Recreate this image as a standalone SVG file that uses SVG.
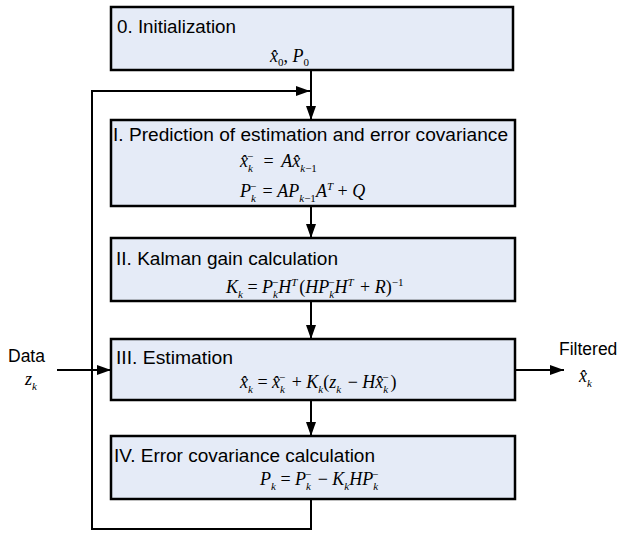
<svg xmlns="http://www.w3.org/2000/svg" width="621" height="533" viewBox="0 0 621 533">
<style>
.box{fill:#e5ebf7;stroke:#000;stroke-width:2.5}
.t{font-family:"Liberation Sans",Arial,sans-serif;font-size:17.5px;fill:#000}
.m{font-family:"Liberation Serif","Times New Roman",serif;font-style:italic;font-size:18px;fill:#000}
.u{font-style:normal}
.s{font-size:11px}
.c{fill:none;stroke:#000;stroke-width:2}
</style>
<defs>
<marker id="ah" markerWidth="14" markerHeight="10" refX="14" refY="5" orient="auto" markerUnits="userSpaceOnUse">
<path d="M0,0 L14,5 L0,10 Z" fill="#000"/>
</marker>
</defs>
<rect width="621" height="533" fill="#fff"/>
<g id="connectors">
<line class="c" x1="311" y1="70" x2="311" y2="120" marker-end="url(#ah)"/>
<line class="c" x1="311" y1="206" x2="311" y2="238" marker-end="url(#ah)"/>
<line class="c" x1="311" y1="301" x2="311" y2="339" marker-end="url(#ah)"/>
<line class="c" x1="311" y1="400" x2="311" y2="436" marker-end="url(#ah)"/>
<polyline class="c" points="311,499 311,529 92,529 92,91 310,91" marker-end="url(#ah)"/>
<line class="c" x1="57" y1="370" x2="111" y2="370" marker-end="url(#ah)"/>
<line class="c" x1="516" y1="370" x2="564" y2="370" marker-end="url(#ah)"/>
</g>
<g id="node0">
<rect class="box" x="111" y="7" width="402" height="63"/>
<text class="t" x="117" y="33" textLength="119" lengthAdjust="spacingAndGlyphs">0. Initialization</text>
<text class="m" x="270" y="62">x̂<tspan class="s u" dy="4">0</tspan><tspan class="u" dy="-4">, </tspan>P<tspan class="s u" dy="4">0</tspan></text>
</g>
<g id="node1">
<rect class="box" x="111" y="120" width="404" height="86"/>
<text class="t" x="113" y="141" textLength="395" lengthAdjust="spacingAndGlyphs">I. Prediction of estimation and error covariance</text>
<text class="m" x="240" y="167">x̂<tspan class="s" dy="5">k</tspan><tspan class="s u" dx="-6" dy="-12">−</tspan><tspan class="u" dx="6" dy="7"> = </tspan><tspan dx="3">A</tspan>x̂<tspan class="s" dy="5">k<tspan class="u">−1</tspan></tspan></text>
<text class="m" x="240" y="197">P<tspan class="s" dy="5">k</tspan><tspan class="s u" dx="-6" dy="-12">−</tspan><tspan class="u" dx="2" dy="7"> = </tspan>AP<tspan class="s" dy="5">k<tspan class="u">−1</tspan></tspan><tspan dy="-5">A</tspan><tspan class="s" dy="-7">T</tspan><tspan class="u" dy="7"> + </tspan>Q</text>
</g>
<g id="node2">
<rect class="box" x="111" y="238" width="404" height="63"/>
<text class="t" x="116" y="265" textLength="222" lengthAdjust="spacingAndGlyphs">II. Kalman gain calculation</text>
<text class="m" x="226" y="293">K<tspan class="s" dy="5">k</tspan><tspan class="u" dy="-5"> = </tspan>P<tspan class="s" dy="5">k</tspan><tspan class="s u" dx="-6" dy="-12">−</tspan><tspan dy="7">H</tspan><tspan class="s" dy="-7">T</tspan><tspan class="u" dx="2" dy="7">(</tspan>HP<tspan class="s" dy="5">k</tspan><tspan class="s u" dx="-6" dy="-12">−</tspan><tspan dy="7">H</tspan><tspan class="s" dy="-7">T</tspan><tspan class="u" dx="2" dy="7"> + </tspan>R<tspan class="u">)</tspan><tspan class="s u" dy="-7">−1</tspan></text>
</g>
<g id="node3">
<rect class="box" x="111" y="339" width="404" height="61"/>
<text class="t" x="116" y="364" textLength="117" lengthAdjust="spacingAndGlyphs">III. Estimation</text>
<text class="m" x="240" y="388">x̂<tspan class="s" dy="5">k</tspan><tspan class="u" dy="-5"> = </tspan>x̂<tspan class="s" dy="5">k</tspan><tspan class="s u" dx="-6" dy="-12">−</tspan><tspan class="u" dx="2" dy="7"> + </tspan>K<tspan class="s" dy="5">k</tspan><tspan class="u" dy="-5">(</tspan>z<tspan class="s" dy="5">k</tspan><tspan class="u" dx="2" dy="-5"> − </tspan>Hx̂<tspan class="s" dy="5">k</tspan><tspan class="s u" dx="-6" dy="-12">−</tspan><tspan class="u" dx="2" dy="7">)</tspan></text>
</g>
<g id="node4">
<rect class="box" x="111" y="436" width="404" height="63"/>
<text class="t" x="114" y="462" textLength="261" lengthAdjust="spacingAndGlyphs">IV. Error covariance calculation</text>
<text class="m" x="260" y="485">P<tspan class="s" dy="5">k</tspan><tspan class="u" dy="-5"> = </tspan>P<tspan class="s" dy="5">k</tspan><tspan class="s u" dx="-6" dy="-12">−</tspan><tspan class="u" dx="2" dy="7"> − </tspan>K<tspan class="s" dy="5">k</tspan><tspan dy="-5">HP</tspan><tspan class="s" dy="5">k</tspan><tspan class="s u" dx="-6" dy="-12">−</tspan></text>
</g>
<g id="input">
<text class="t" x="8" y="362">Data</text>
<text class="m" x="25" y="385">z<tspan class="s" dy="5">k</tspan></text>
</g>
<g id="output">
<text class="t" x="559" y="355">Filtered</text>
<text class="m" x="579" y="382">x̂<tspan class="s" dy="5">k</tspan></text>
</g>
</svg>
